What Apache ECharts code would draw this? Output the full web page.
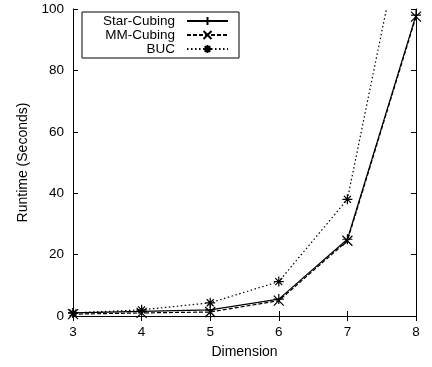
<!DOCTYPE html>
<html><head><meta charset="utf-8">
<script src="https://cdn.jsdelivr.net/npm/echarts@6/dist/echarts.min.js"></script>
<style>html,body{margin:0;padding:0;background:#fff}#c{width:432px;height:367px}</style>
</head><body><div id="c"></div>
<script>
const dims = [3, 4, 5, 6, 7, 8];
const starCubing = [1.0, 1.5, 2.0, 5.5, 25, 98];
const mmCubing = [0.6, 1.0, 1.3, 5.0, 24.5, 97.5];
const buc = [1.0, 2.0, 4.3, 11.2, 38, 147];
const seriesNames = ['Star-Cubing', 'MM-Cubing', 'BUC'];

const plus = 'path://M0,5L10,5M5,0L5,10';
const cross = 'path://M1,1L9,9M9,1L1,9';
const star = 'path://M0,5L10,5M5,0L5,10M1.5,1.5L8.5,8.5M8.5,1.5L1.5,8.5';
const font = 'Liberation Sans';

function mk(name, vals, sym, type) {
  return {
    name: name, type: 'line', data: dims.map((d, i) => [d, vals[i]]),
    symbol: sym, symbolSize: 10, clip: true,
    lineStyle: {color: '#000', width: 1.2, type: type},
    itemStyle: {color: 'none', borderColor: '#000', borderWidth: 1.2},
    emphasis: {disabled: true}, animation: false
  };
}
const chart = echarts.init(document.getElementById('c'));
const tickIn = {inside: true, length: 5, lineStyle: {color: '#000', width: 1}};
chart.setOption({
  backgroundColor: '#fff',
  animation: false,
  textStyle: {fontFamily: font},
  grid: {left: 73, right: 16, top: 9, bottom: 51},
  legend: {
    orient: 'vertical', left: 82, top: 12, align: 'right',
    itemWidth: 41, itemHeight: 10, itemGap: 0,
    padding: [2, 10, 2, 4],
    borderColor: '#000', borderWidth: 1,
    textStyle: {fontFamily: font, fontSize: 13.5, color: '#000', width: 89, align: 'right',
                lineHeight: 14, padding: [0, 7, 0, 0]},
    data: seriesNames
  },
  xAxis: [{
    type: 'value', min: 3, max: 8, interval: 1,
    name: 'Dimension', nameLocation: 'middle', nameGap: 29,
    nameTextStyle: {fontFamily: font, fontSize: 14, color: '#000'},
    axisLine: {lineStyle: {color: '#000', width: 1}},
    axisTick: tickIn, splitLine: {show: false},
    axisLabel: {fontFamily: font, fontSize: 13.5, color: '#000', margin: 9}
  }, {
    type: 'value', min: 3, max: 8, interval: 1, position: 'top',
    axisLine: {lineStyle: {color: '#000', width: 1}},
    axisTick: tickIn, splitLine: {show: false}, axisLabel: {show: false}
  }],
  yAxis: [{
    type: 'value', min: 0, max: 100, interval: 20,
    name: 'Runtime (Seconds)', nameLocation: 'middle', nameGap: 40,
    nameTextStyle: {fontFamily: font, fontSize: 14, color: '#000'},
    axisLine: {show: true, lineStyle: {color: '#000', width: 1}},
    axisTick: {show: true, inside: true, length: 5, lineStyle: {color: '#000'}},
    splitLine: {show: false},
    axisLabel: {fontFamily: font, fontSize: 13.5, color: '#000', margin: 9}
  }, {
    type: 'value', min: 0, max: 100, interval: 20, position: 'right',
    axisLine: {show: true, lineStyle: {color: '#000', width: 1}},
    axisTick: {show: true, inside: true, length: 5, lineStyle: {color: '#000'}},
    splitLine: {show: false}, axisLabel: {show: false}
  }],
  series: [
    mk(seriesNames[0], starCubing, plus, 'solid'),
    mk(seriesNames[1], mmCubing, cross, [4, 2]),
    mk(seriesNames[2], buc, star, [1.5, 2.5])
  ]
});
</script></body></html>
